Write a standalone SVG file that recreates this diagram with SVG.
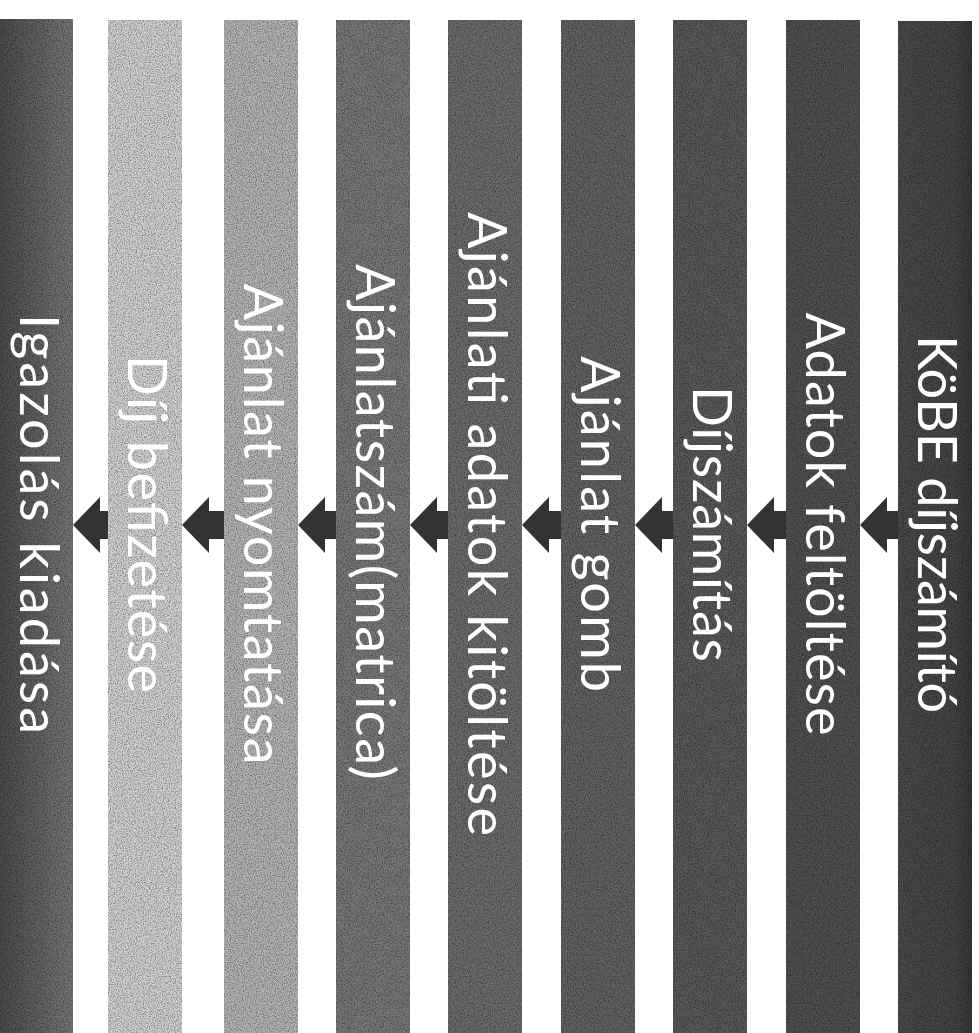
<svg xmlns="http://www.w3.org/2000/svg" width="979" height="1033" viewBox="0 0 979 1033">
<style>
.lbl{font-family:"Lato","Liberation Sans",sans-serif;font-size:54px;fill:#ffffff;text-anchor:middle;}
.arr{fill:#333333;}
</style>
<defs>
<filter id="grain" x="0" y="0" width="100%" height="100%">
<feTurbulence type="fractalNoise" baseFrequency="0.85" numOctaves="2" seed="4" result="n"/>
<feColorMatrix in="n" type="matrix" values="0 0 0 0 0  0 0 0 0 0  0 0 0 0 0  1.0 0 0 0 -0.4"/>
</filter>
<linearGradient id="g1" x1="0" y1="0" x2="1" y2="0">
<stop offset="0" stop-color="#4a4a4a"/>
<stop offset="1" stop-color="#787878"/>
</linearGradient>
<linearGradient id="g9" x1="0" y1="0" x2="1" y2="0">
<stop offset="0" stop-color="#4a4a4a"/>
<stop offset="0.75" stop-color="#454545"/>
<stop offset="1" stop-color="#363636"/>
</linearGradient>
</defs>
<rect width="979" height="1033" fill="#ffffff"/>
<g id="bar1"><rect x="-1" y="19" width="74" height="1014" fill="url(#g1)"/><rect x="-1" y="19" width="74" height="1014" filter="url(#grain)"/><text class="lbl" x="20" y="524" transform="rotate(90 20 524)" textLength="420" lengthAdjust="spacing">Igazolás kiadása</text></g>
<g id="bar2"><rect x="108" y="20" width="74" height="1013" fill="#d2d2d2"/><rect x="108" y="20" width="74" height="1013" filter="url(#grain)"/><text class="lbl" x="128" y="524" transform="rotate(90 128 524)" textLength="338" lengthAdjust="spacing">Díj befizetése</text></g>
<g id="bar3"><rect x="224" y="20" width="74" height="1013" fill="#b5b5b5"/><rect x="224" y="20" width="74" height="1013" filter="url(#grain)"/><text class="lbl" x="244" y="524" transform="rotate(90 244 524)" textLength="481" lengthAdjust="spacing">Ajánlat nyomtatása</text></g>
<g id="bar4"><rect x="336" y="20" width="74" height="1013" fill="#787878"/><rect x="336" y="20" width="74" height="1013" filter="url(#grain)"/><text class="lbl" x="356" y="522" transform="rotate(90 356 522)" textLength="516" lengthAdjust="spacing">Ajánlatszám(matrica)</text></g>
<g id="bar5"><rect x="448" y="20" width="74" height="1013" fill="#6b6b6b"/><rect x="448" y="20" width="74" height="1013" filter="url(#grain)"/><text class="lbl" x="468" y="524" transform="rotate(90 468 524)" textLength="624" lengthAdjust="spacing">Ajánlati adatok kitöltése</text></g>
<g id="bar6"><rect x="561" y="20" width="74" height="1013" fill="#626262"/><rect x="561" y="20" width="74" height="1013" filter="url(#grain)"/><text class="lbl" x="581" y="524" transform="rotate(90 581 524)" textLength="336" lengthAdjust="spacing">Ajánlat gomb</text></g>
<g id="bar7"><rect x="673" y="20" width="74" height="1013" fill="#595959"/><rect x="673" y="20" width="74" height="1013" filter="url(#grain)"/><text class="lbl" x="693" y="524" transform="rotate(90 693 524)" textLength="276" lengthAdjust="spacing">Díjszámítás</text></g>
<g id="bar8"><rect x="786" y="20" width="74" height="1013" fill="#505050"/><rect x="786" y="20" width="74" height="1013" filter="url(#grain)"/><text class="lbl" x="806" y="524" transform="rotate(90 806 524)" textLength="423" lengthAdjust="spacing">Adatok feltöltése</text></g>
<g id="bar9"><rect x="898" y="21" width="74" height="1012" fill="url(#g9)"/><rect x="898" y="21" width="74" height="1012" filter="url(#grain)"/><text class="lbl" x="918" y="524" transform="rotate(90 918 524)" textLength="378" lengthAdjust="spacing">KöBE díjszámító</text></g>
<g id="connectors">
<polygon class="arr" points="73,525 100,497 100,511 108,511 108,539 100,539 100,553"/>
<polygon class="arr" points="182,525 209,497 209,511 224,511 224,539 209,539 209,553"/>
<polygon class="arr" points="298,525 325,497 325,511 336,511 336,539 325,539 325,553"/>
<polygon class="arr" points="410,525 437,497 437,511 448,511 448,539 437,539 437,553"/>
<polygon class="arr" points="522,525 549,497 549,511 561,511 561,539 549,539 549,553"/>
<polygon class="arr" points="635,525 662,497 662,511 673,511 673,539 662,539 662,553"/>
<polygon class="arr" points="747,525 774,497 774,511 786,511 786,539 774,539 774,553"/>
<polygon class="arr" points="860,525 887,497 887,511 898,511 898,539 887,539 887,553"/>
</g>
</svg>
